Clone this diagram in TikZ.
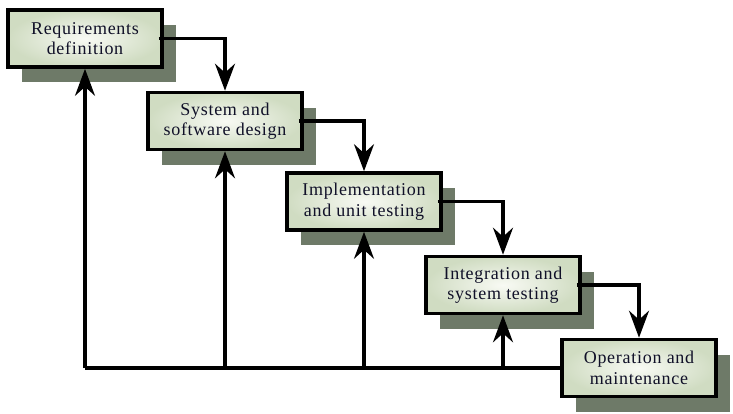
\documentclass[tikz,border=0pt]{standalone}
\usepackage{fontspec}
\setmainfont{Liberation Serif}[LetterSpace=4]
\usetikzlibrary{arrows.meta}
\definecolor{boxedge}{HTML}{D0DCC2}
\definecolor{boxmid}{HTML}{F8FAF4}
\definecolor{shadowc}{HTML}{6E7A68}
\definecolor{txt}{HTML}{101028}
\tikzset{
  phase/.style={draw=black, line width=3.6pt, inner color=boxmid, outer color=boxedge,
    minimum width=154pt, minimum height=57pt, inner sep=0pt, align=center,
    font=\fontsize{18}{20.5}\selectfont, text=txt},
  shadowbox/.style={fill=shadowc, draw=none, minimum width=154pt, minimum height=57pt, inner sep=0pt},
  flow/.style={line width=3.2pt, -{Stealth[length=27pt, width=20pt, inset=9pt]}},
  plainline/.style={line width=3.2pt}
}
\begin{document}
\begin{tikzpicture}[x=1pt, y=-1pt]
\useasboundingbox[fill=white] (0,0) rectangle (733,413);
% shadows
\foreach \cx/\cy [count=\i] in {85/38.5, 225/121, 364/201.5, 503/285, 639/368}{
  \node[shadowbox] (S\i) at (\cx+14,\cy+15) {};
}
% boxes
\node[phase] (B1) at (85,38.5) {Requirements\\definition};
\node[phase] (B2) at (225,121) {System and\\software design};
\node[phase] (B3) at (364,201.5) {Implementation\\and unit testing};
\node[phase] (B4) at (503,285) {Integration and\\system testing};
\node[phase] (B5) at (639,368) {Operation and\\maintenance};
% forward flow
\draw[flow] ([xshift=-5pt]B1.east) -| (B2.north);
\draw[flow] ([xshift=-5pt]B2.east) -| (B3.north);
\draw[flow] ([xshift=-5pt]B3.east) -| (B4.north);
\draw[flow] ([xshift=-5pt]B4.east) -| (B5.north);
% feedback
\coordinate (C) at (B1.south |- B5.west);
\draw[plainline] (B5.west) -- (C);
\draw[flow] (C) -- (B1.south);
\draw[flow] (B2.south |- B5.west) -- (B2.south);
\draw[flow] (B3.south |- B5.west) -- (B3.south);
\draw[flow] (B4.south |- B5.west) -- (B4.south);
\end{tikzpicture}
\end{document}
